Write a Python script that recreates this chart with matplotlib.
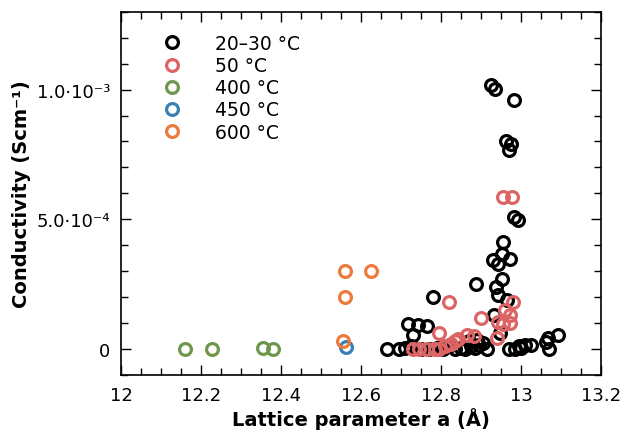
import matplotlib
matplotlib.use('Agg')
import matplotlib.pyplot as plt
from matplotlib.ticker import MultipleLocator, FixedLocator, FixedFormatter
import numpy as np

# lattice parameter a (Å) and conductivity (in units of 1e-4 S/cm)
a_rt = [12.925, 12.935, 12.983, 12.962, 12.975, 12.970, 12.983, 12.993,
        12.955, 12.931, 12.952, 12.9725, 12.943, 12.952, 12.937, 12.943,
        12.887, 12.780, 12.933, 12.964, 12.948,
        12.718, 12.743, 12.764, 12.729,
        12.665, 12.695, 12.710, 12.725, 12.750, 12.770, 12.790, 12.805,
        12.820, 12.835, 12.850, 12.860, 12.875, 12.885, 12.895, 12.905,
        12.915, 12.870, 12.890, 12.970, 12.985, 12.995, 13.000, 13.010,
        13.025, 13.063, 13.068, 13.070, 13.092]
s_rt = [10.19, 10.04, 9.58, 8.00, 7.89, 7.67, 5.10, 4.97,
        4.12, 3.45, 3.67, 3.48, 3.29, 2.71, 2.39, 2.07,
        2.49, 2.01, 1.30, 1.88, 0.60,
        0.96, 0.92, 0.88, 0.56,
        0.0, 0.0, 0.05, 0.10, 0.0, 0.0, 0.05, 0.0,
        0.10, 0.0, 0.05, 0.0, 0.10, 0.05, 0.15, 0.25,
        0.0, 0.30, 0.35, 0.0, 0.0, 0.10, 0.05, 0.15,
        0.15, 0.28, 0.41, 0.0, 0.54]

a_50 = [12.955, 12.977, 12.820, 12.980, 12.900, 12.960, 12.972, 12.943,
        12.955, 12.972, 12.940, 12.795, 12.865, 12.882, 12.835, 12.842,
        12.825, 12.810, 12.795, 12.730, 12.745, 12.765, 12.785]
s_50 = [5.85, 5.85, 1.82, 1.82, 1.20, 1.50, 1.30, 1.05,
        0.95, 1.00, 0.41, 0.60, 0.54, 0.50, 0.30, 0.40,
        0.20, 0.10, 0.02, 0.0, 0.0, 0.0, 0.0]

a_400 = [12.160, 12.228, 12.355, 12.380]
s_400 = [0.0, 0.0, 0.03, 0.0]

a_450 = [12.5625]
s_450 = [0.09]

a_600 = [12.560, 12.625, 12.560, 12.555]
s_600 = [3.0, 3.0, 2.0, 0.31]

series = [
    ('20\u201330 \u00b0C', a_rt, s_rt, 'black'),
    ('50 \u00b0C', a_50, s_50, '#dc6464'),
    ('400 \u00b0C', a_400, s_400, '#6f974c'),
    ('450 \u00b0C', a_450, s_450, '#3a80b3'),
    ('600 \u00b0C', a_600, s_600, '#ec7a3c'),
]

ytick_vals = [0, 5e-4, 1e-3]
ytick_labels = ['0', '5.0\u00b710\u207b\u2074', '1.0\u00b710\u207b\u00b3']

fig = plt.figure(figsize=(6.29, 4.35), dpi=100)
ax = fig.add_axes([0.1924, 0.1356, 0.7631, 0.8352])

for lab, a, s, c in series:
    ax.plot(a, np.array(s) * 1e-4, 'o', mfc='none', mec=c, mew=2.3, ms=8.5,
            linestyle='none', label=lab)

ax.set_xlim(12, 13.2)
ax.set_ylim(-1e-4, 1.3e-3)
ax.xaxis.set_major_locator(MultipleLocator(0.2))
ax.xaxis.set_minor_locator(MultipleLocator(0.05))
ax.xaxis.set_major_formatter(matplotlib.ticker.FormatStrFormatter('%g'))
ax.yaxis.set_major_locator(FixedLocator(ytick_vals))
ax.yaxis.set_major_formatter(FixedFormatter(ytick_labels))
ax.yaxis.set_minor_locator(MultipleLocator(1e-4))
ax.tick_params(which='both', direction='in', top=True, right=True,
               labelsize=13, width=1)
ax.tick_params(which='major', length=7, pad=8)
ax.tick_params(which='minor', length=5)
for sp in ax.spines.values():
    sp.set_linewidth(1.2)

ax.set_xlabel('Lattice parameter a (\u00c5)', fontsize=14, fontweight='bold',
              labelpad=2)
ax.set_ylabel('Conductivity (Scm\u207b\u00b9)', fontsize=14, fontweight='bold',
              labelpad=4)

ax.legend(loc='upper left', frameon=False, fontsize=13.5, handletextpad=1.3,
          labelspacing=0.17, borderaxespad=0.3, bbox_to_anchor=(0.04, 0.975))

fig.savefig('out.png', dpi=100)
